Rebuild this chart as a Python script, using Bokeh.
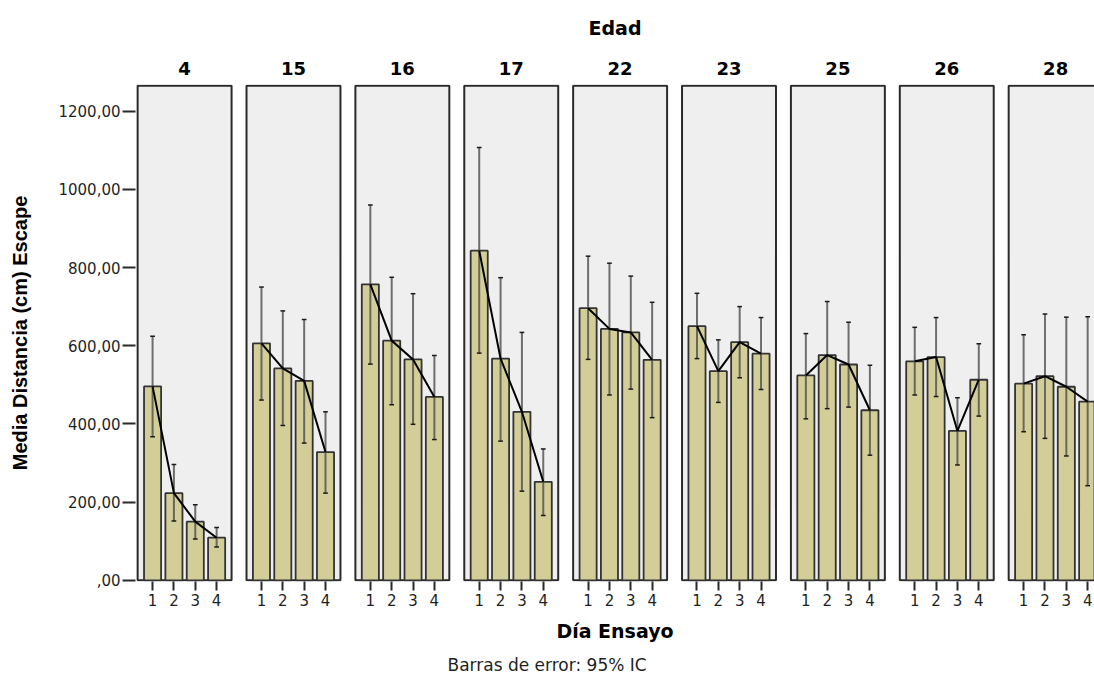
from bokeh.plotting import figure
from bokeh.models import Range1d, FixedTicker, LinearAxis, Title, ColumnDataSource
from bokeh.embed import file_html
from bokeh.resources import INLINE

# Mean escape distance (cm) per age group and trial day, with 95% CI bounds
ages = ["4", "15", "16", "17", "22", "23", "25", "26", "28"]
days = [1, 2, 3, 4]
means = [
    [496, 223, 150, 109],
    [606, 542, 510, 328],
    [757, 613, 565, 469],
    [843, 567, 431, 252],
    [696, 643, 634, 564],
    [650, 535, 609, 580],
    [524, 576, 552, 435],
    [560, 571, 382, 513],
    [503, 522, 495, 457],
]
ci_low = [
    [367, 152, 106, 85],
    [461, 396, 351, 223],
    [553, 449, 399, 360],
    [581, 356, 228, 166],
    [565, 474, 489, 416],
    [567, 455, 518, 488],
    [413, 439, 443, 320],
    [474, 470, 295, 420],
    [380, 363, 318, 242],
]
ci_high = [
    [624, 296, 193, 135],
    [750, 689, 667, 431],
    [960, 775, 733, 575],
    [1107, 774, 634, 336],
    [829, 811, 778, 711],
    [734, 615, 700, 672],
    [631, 713, 660, 550],
    [647, 672, 467, 605],
    [628, 681, 673, 674],
]
y_ticks = [0, 200, 400, 600, 800, 1000, 1200]
y_tick_labels = [",00", "200,00", "400,00", "600,00", "800,00", "1000,00", "1200,00"]

# panel geometry in x units (one panel per age group)
PANEL_STEP = 51
PANEL_W = 44
BAR_OFFSET = 7
BAR_STEP = 10
BAR_W = 8
PANEL_TOP = 1265
CAP = 1.1

TEXT = "#1f1f1f"
FONT = "DejaVu Sans"

p = figure(
    width=1094, height=683, output_backend="svg", toolbar_location=None,
    x_range=Range1d(-1, 448.2), y_range=Range1d(-3, 1268),
    min_border_left=135, min_border_right=0, min_border_top=84, min_border_bottom=102,
    x_axis_location=None, y_axis_location="left",
)
p.grid.visible = False
p.outline_line_color = None
p.background_fill_color = "white"
p.border_fill_color = "white"

# panel backgrounds
lefts = [k * PANEL_STEP for k in range(len(ages))]
p.quad(left=lefts, right=[l + PANEL_W for l in lefts], bottom=0, top=PANEL_TOP,
       fill_color="#efefef", line_color="#2a2a2a", line_width=2)

bx, top, lo, hi = [], [], [], []
line_xs, line_ys = [], []
for k in range(len(ages)):
    xs = [k * PANEL_STEP + BAR_OFFSET + BAR_STEP * i for i in range(len(days))]
    bx += xs
    top += means[k]
    lo += ci_low[k]
    hi += ci_high[k]
    line_xs.append(xs)
    line_ys.append(means[k])

src = ColumnDataSource(dict(
    x=bx, top=top, lo=lo, hi=hi,
    xl=[x - CAP for x in bx], xr=[x + CAP for x in bx],
))

p.vbar(x="x", top="top", bottom=0, width=BAR_W, source=src,
       fill_color="#d3ce98", line_color="#333333", line_width=1.8)

# 95% CI error bars
p.segment(x0="x", y0="lo", x1="x", y1="hi", source=src,
          line_color="#4d4d4d", line_width=2, line_alpha=0.8)
p.segment(x0="xl", y0="hi", x1="xr", y1="hi", source=src,
          line_color="#1a1a1a", line_width=1.5)
p.segment(x0="xl", y0="lo", x1="xr", y1="lo", source=src,
          line_color="#1a1a1a", line_width=1.5)

# line through the means of each panel
p.multi_line(xs=line_xs, ys=line_ys, line_color="black", line_width=2)

# left axis
ya = p.yaxis[0]
ya.ticker = FixedTicker(ticks=y_ticks)
ya.major_label_overrides = dict(zip(y_ticks, y_tick_labels))
ya.axis_line_color = None
ya.major_tick_in = 0
ya.major_tick_out = 13
ya.major_tick_line_color = "#2a2a2a"
ya.major_tick_line_width = 2
ya.minor_tick_line_color = None
ya.major_label_standoff = 2
ya.major_label_text_font = FONT
ya.major_label_text_font_size = "15px"
ya.major_label_text_color = TEXT
ya.axis_label = "Media Distancia (cm) Escape"
ya.axis_label_text_font = "Liberation Sans"
ya.axis_label_text_font_style = "bold"
ya.axis_label_text_font_size = "20px"
ya.axis_label_text_color = "black"
ya.axis_label_standoff = 24

# bottom axis: trial day under each bar
xa = LinearAxis(
    ticker=FixedTicker(ticks=bx),
    major_label_overrides={x: str(days[i % len(days)]) for i, x in enumerate(bx)},
    axis_label="Día Ensayo",
)
xa.axis_line_color = None
xa.major_tick_in = 0
xa.major_tick_out = 9
xa.major_tick_line_color = "#2a2a2a"
xa.major_tick_line_width = 2
xa.minor_tick_line_color = None
xa.major_label_standoff = 3
xa.major_label_text_font = FONT
xa.major_label_text_font_size = "15px"
xa.major_label_text_color = TEXT
xa.axis_label_text_font = FONT
xa.axis_label_text_font_style = "bold"
xa.axis_label_text_font_size = "19px"
xa.axis_label_text_color = "black"
xa.axis_label_standoff = 11
p.add_layout(xa, "below")

# top axis: age group headers
centers = [l + PANEL_W // 2 for l in lefts]
ta = LinearAxis(
    ticker=FixedTicker(ticks=centers),
    major_label_overrides=dict(zip(centers, ages)),
    axis_label="Edad",
)
ta.axis_line_color = None
ta.major_tick_in = 0
ta.major_tick_out = 0
ta.minor_tick_line_color = None
ta.major_label_standoff = 10
ta.major_label_text_font = FONT
ta.major_label_text_font_style = "bold"
ta.major_label_text_font_size = "18px"
ta.major_label_text_color = "black"
ta.axis_label_text_font = FONT
ta.axis_label_text_font_style = "bold"
ta.axis_label_text_font_size = "19px"
ta.axis_label_text_color = "black"
ta.axis_label_standoff = 20
p.add_layout(ta, "above")

# footnote under the chart
note = Title(text="Barras de error: 95% IC", align="left", offset=312,
             text_font=FONT, text_font_size="17px", text_font_style="normal",
             text_color=TEXT, standoff=17)
p.add_layout(note, "below")

open("out.html", "w").write(file_html(p, INLINE))
